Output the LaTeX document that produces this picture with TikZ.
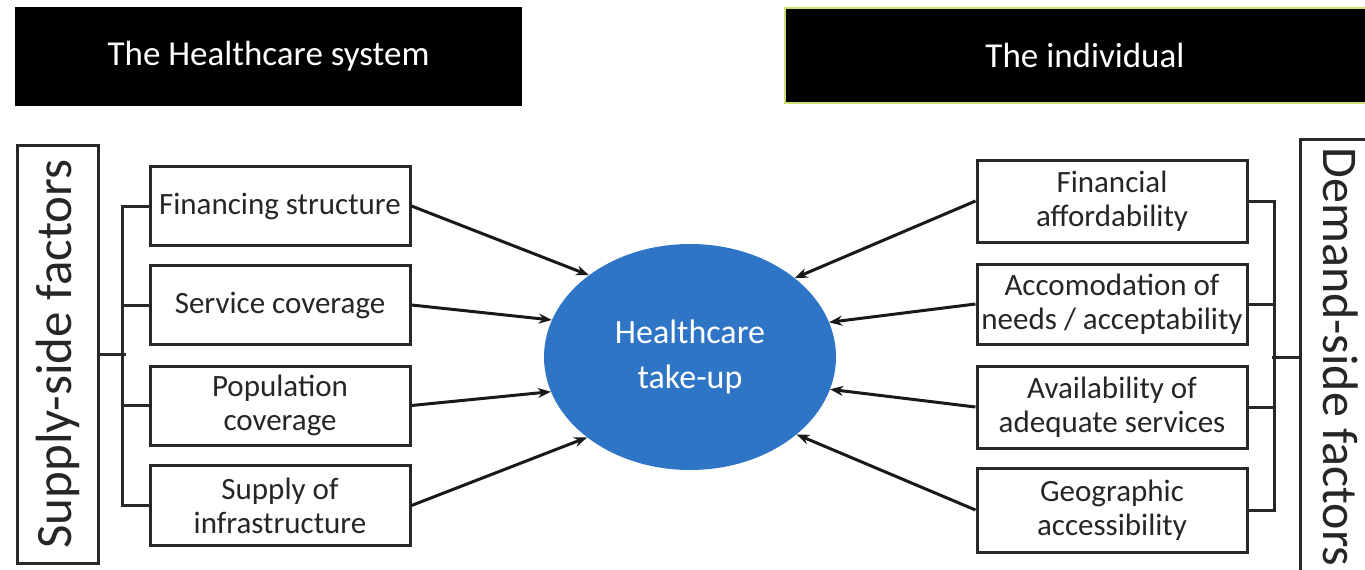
\documentclass[tikz,border=0pt]{standalone}
\usepackage{fontspec}
\setmainfont{Carlito}
\usetikzlibrary{arrows.meta,shapes.geometric}
\definecolor{hcblue}{RGB}{46,117,198}
\definecolor{boxgray}{RGB}{40,40,40}
\definecolor{txtgray}{RGB}{38,38,38}
\definecolor{hdrline}{RGB}{205,222,110}
\begin{document}
\begin{tikzpicture}[x=1pt,y=-1pt,
  hdr/.style={fill=black, text=white, font=\fontsize{35}{40}\selectfont, inner sep=0pt},
  factor/.style={draw=boxgray, line width=3pt, fill=white, text=txtgray,
    font=\fontsize{31}{34}\selectfont, align=center, inner sep=0pt},
  side/.style={draw=boxgray, line width=3pt, text=txtgray,
    font=\fontsize{51}{60}\selectfont, inner sep=0pt, minimum height=81},
  conn/.style={draw=boxgray, line width=3pt},
  arr/.style={draw=black!90, line width=3pt, -{Stealth[length=13pt,width=10pt]}}
]
\useasboundingbox (0,0) rectangle (1365,570);
% headers
\node[hdr, minimum width=507, minimum height=99] (hs) at (268.5,56.5) {The Healthcare system};
\node[hdr, draw=hdrline, line width=1.5pt, minimum width=600, minimum height=95] (ind) at (1085,55.5) {The individual};
% side boxes
\node[side, rotate=90, minimum width=418] (supply) at (57.5,354) {Supply-side factors};
\node[side, rotate=-90, minimum width=436, font=\fontsize{50}{60}\selectfont] (demand) at (1340.5,357) {Demand-side factors};
% left factors
\node[factor, minimum width=260, minimum height=79] (f1) at (280,206) {Financing structure};
\node[factor, minimum width=260, minimum height=79] (f2) at (280,305) {Service coverage};
\node[factor, minimum width=260, minimum height=79] (f3) at (280,405.5) {Population\\coverage};
\node[factor, minimum width=260, minimum height=80] (f4) at (280,505.5) {Supply of\\infrastructure};
% right factors
\node[factor, minimum width=270, minimum height=82] (d1) at (1112,201) {Financial\\affordability};
\node[factor, minimum width=270, minimum height=80] (d2) at (1112,304) {Accomodation of\\needs / acceptability};
\node[factor, minimum width=270, minimum height=82] (d3) at (1112,407) {Availability of\\adequate services};
\node[factor, minimum width=270, minimum height=84] (d4) at (1112,510) {Geographic\\accessibility};
% centre
\node[ellipse, fill=hcblue, minimum width=292, minimum height=226, inner sep=0pt,
  text=white, align=center, font=\fontsize{34}{45}\selectfont] (hc) at (690,357) {Healthcare\\take-up};
% brackets
\draw[conn] (f1.west) -- ++(-26,0) |- (f4.west);
\draw[conn] (f2.west) -- ++(-26,0);
\draw[conn] (f3.west) -- ++(-26,0);
\draw[conn] (supply.south) -- ++(26,0);
\draw[conn] (d1.east) -- ++(26,0) |- (d4.east);
\draw[conn] (d2.east) -- ++(26,0);
\draw[conn] (d3.east) -- ++(26,0);
\draw[conn] (demand.south) -- ++(-27,0);
% arrows
\draw[arr] (f1.east) -- (hc.141);
\draw[arr] (f2.east) -- (hc.165);
\draw[arr] (f3.east) -- (hc.194);
\draw[arr] (f4.east) -- (hc.218);
\draw[arr] (d1.west) -- (hc.37);
\draw[arr] (d2.west) -- (hc.14);
\draw[arr] (d3.west) -- (hc.-13);
\draw[arr] (d4.west) -- (hc.-36);
\end{tikzpicture}
\end{document}
